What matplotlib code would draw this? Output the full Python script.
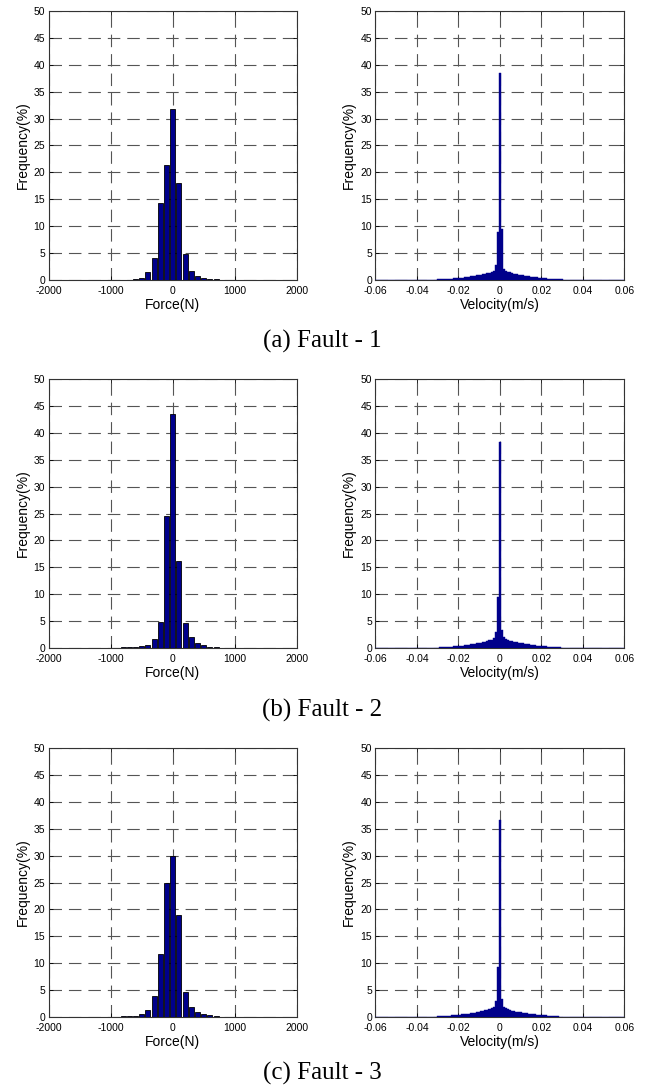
import numpy as np
import matplotlib
matplotlib.use("Agg")
import matplotlib.pyplot as plt

plt.rcParams["font.family"] = ["Liberation Sans", "DejaVu Sans"]
plt.rcParams["lines.scale_dashes"] = False

# force histogram: bin centres -2000..2000 N, step 100
force_centers = np.arange(-2000, 2001, 100)
force_f1 = [0, 0, 0, 0, 0, 0, 0, 0, 0, 0,
            0.05, 0.05, 0.05, 0.08, 0.2, 0.35, 1.4, 4.1, 14.3, 21.3, 31.7,
            18.1, 4.9, 1.7, 0.8, 0.4, 0.2, 0.1, 0.05,
            0.05, 0.05, 0.05, 0.05, 0.05, 0.05, 0.05, 0.05, 0.05, 0.05, 0.05, 0.05]
force_f2 = [0, 0, 0, 0, 0, 0, 0, 0, 0, 0, 0,
            0.08, 0.1, 0.1, 0.15, 0.3, 0.6, 1.6, 4.8, 24.5, 43.5,
            16.2, 4.6, 2.0, 1.0, 0.5, 0.25, 0.1,
            0.05, 0.05, 0.05, 0.05, 0.05, 0.05, 0.05, 0.05, 0.05, 0.05, 0.05, 0.05, 0.05]
force_f3 = [0, 0, 0, 0, 0, 0, 0, 0,
            0.08, 0.1, 0.1, 0.1, 0.12, 0.15, 0.25, 0.5, 1.4, 4.0, 11.7, 24.9, 30.0,
            19.0, 4.6, 1.8, 0.9, 0.6, 0.3, 0.25,
            0.05, 0.05, 0.05, 0.05, 0.05, 0.05, 0.05, 0.05, 0.05, 0.05, 0.05, 0.05, 0.05]

# velocity histogram: bin centres -0.06..0.06 m/s, step 0.001
vel_centers = np.round(np.arange(-60, 61) * 0.001, 3)
vel_f1 = [0.03, 0.03, 0.03, 0.03, 0.03, 0.03, 0.03, 0.03, 0.03, 0.03,
          0.03, 0.03, 0.03, 0.03, 0.03, 0.03, 0.03, 0.03, 0.03, 0.03,
          0.04, 0.04, 0.05, 0.05, 0.05, 0.06, 0.06, 0.07, 0.07, 0.08,
          0.09, 0.10, 0.12, 0.15, 0.17, 0.20, 0.23, 0.26, 0.29, 0.32,
          0.36, 0.40, 0.44, 0.49, 0.54, 0.59, 0.65, 0.71, 0.78, 0.85,
          0.92, 1.00, 1.08, 1.17, 1.27, 1.38, 1.52, 1.75, 2.80, 8.9,
          38.5,
          9.4, 2.1, 1.75, 1.55, 1.40, 1.28, 1.18, 1.09, 1.01, 0.94,
          0.87, 0.80, 0.74, 0.68, 0.62, 0.57, 0.52, 0.47, 0.42, 0.38,
          0.34, 0.30, 0.27, 0.24, 0.21, 0.18, 0.15, 0.12, 0.10, 0.09,
          0.08, 0.07, 0.07, 0.06, 0.06, 0.05, 0.05, 0.05, 0.04, 0.04,
          0.03, 0.03, 0.03, 0.03, 0.03, 0.03, 0.03, 0.03, 0.03, 0.03,
          0.03, 0.03, 0.03, 0.03, 0.03, 0.03, 0.03, 0.03, 0.03, 0.03]
vel_f2 = [0.03, 0.03, 0.03, 0.03, 0.03, 0.03, 0.03, 0.03, 0.03, 0.03,
          0.03, 0.03, 0.03, 0.03, 0.03, 0.03, 0.03, 0.03, 0.03, 0.03,
          0.04, 0.04, 0.04, 0.05, 0.05, 0.05, 0.06, 0.06, 0.07, 0.08,
          0.09, 0.11, 0.13, 0.15, 0.18, 0.21, 0.24, 0.27, 0.30, 0.34,
          0.38, 0.42, 0.46, 0.51, 0.56, 0.61, 0.67, 0.73, 0.80, 0.87,
          0.94, 1.02, 1.10, 1.19, 1.29, 1.40, 1.55, 1.80, 2.90, 9.4,
          38.3,
          3.3, 2.0, 1.70, 1.50, 1.36, 1.25, 1.15, 1.06, 0.98, 0.91,
          0.84, 0.78, 0.72, 0.66, 0.60, 0.55, 0.50, 0.45, 0.41, 0.37,
          0.33, 0.29, 0.26, 0.23, 0.20, 0.17, 0.14, 0.12, 0.10, 0.09,
          0.08, 0.07, 0.07, 0.06, 0.06, 0.05, 0.05, 0.05, 0.04, 0.04,
          0.03, 0.03, 0.03, 0.03, 0.03, 0.03, 0.03, 0.03, 0.03, 0.03,
          0.03, 0.03, 0.03, 0.03, 0.03, 0.03, 0.03, 0.03, 0.03, 0.03]
vel_f3 = [0.03, 0.03, 0.03, 0.03, 0.03, 0.03, 0.03, 0.03, 0.03, 0.03,
          0.03, 0.03, 0.03, 0.03, 0.03, 0.03, 0.03, 0.03, 0.03, 0.03,
          0.04, 0.04, 0.05, 0.05, 0.06, 0.06, 0.07, 0.08, 0.09, 0.10,
          0.12, 0.14, 0.16, 0.18, 0.21, 0.24, 0.27, 0.30, 0.33, 0.37,
          0.41, 0.45, 0.49, 0.54, 0.59, 0.64, 0.70, 0.76, 0.83, 0.90,
          0.97, 1.05, 1.13, 1.22, 1.32, 1.44, 1.60, 1.85, 2.90, 9.3,
          36.6,
          3.3, 1.9, 1.65, 1.45, 1.32, 1.21, 1.11, 1.02, 0.94, 0.87,
          0.81, 0.75, 0.69, 0.63, 0.58, 0.53, 0.48, 0.44, 0.40, 0.36,
          0.32, 0.29, 0.26, 0.23, 0.20, 0.17, 0.14, 0.12, 0.10, 0.09,
          0.08, 0.07, 0.07, 0.06, 0.06, 0.05, 0.05, 0.05, 0.04, 0.04,
          0.03, 0.03, 0.03, 0.03, 0.03, 0.03, 0.03, 0.03, 0.03, 0.03,
          0.03, 0.03, 0.03, 0.03, 0.03, 0.03, 0.03, 0.03, 0.03, 0.03]

force_ticks = [-2000, -1000, 0, 1000, 2000]
force_ticklabels = ["-2000", "-1000", "0", "1000", "2000"]
vel_ticks = [-0.06, -0.04, -0.02, 0, 0.02, 0.04, 0.06]
vel_ticklabels = ["-0.06", "-0.04", "-0.02", "0", "0.02", "0.04", "0.06"]
freq_ticks = [0, 5, 10, 15, 20, 25, 30, 35, 40, 45, 50]
captions = ["(a) Fault - 1", "(b) Fault - 2", "(c) Fault - 3"]

NAVY = "#00008b"


def style_axes(ax):
    ax.set_ylim(0, 50)
    ax.set_yticks(freq_ticks)
    ax.set_yticklabels([str(t) for t in freq_ticks])
    ax.set_ylabel("Frequency(%)", fontsize=10, labelpad=3)
    ax.grid(True, color="#555555", linestyle=(0, (9, 5)), linewidth=0.8)
    ax.set_axisbelow(True)
    ax.tick_params(direction="in", length=3, width=0.6, labelsize=7.5,
                   top=True, right=True)
    ax.tick_params(axis="y", pad=2.5)
    ax.tick_params(axis="x", pad=4)
    for s in ax.spines.values():
        s.set_linewidth(0.8)
        s.set_color("#333333")


def draw_force(ax, vals):
    ax.bar(force_centers, vals, width=82, color=NAVY, edgecolor="black",
           linewidth=0.6, zorder=3)
    ax.set_xlim(-2000, 2000)
    ax.set_xticks(force_ticks)
    ax.set_xticklabels(force_ticklabels)
    ax.set_xlabel("Force(N)", fontsize=10, labelpad=1.5)
    style_axes(ax)


def draw_velocity(ax, vals):
    ax.bar(vel_centers, vals, width=0.001, color=NAVY, edgecolor=NAVY,
           linewidth=0.3, zorder=3)
    ax.set_xlim(-0.06, 0.06)
    ax.set_xticks(vel_ticks)
    ax.set_xticklabels(vel_ticklabels)
    ax.set_xlabel("Velocity(m/s)", fontsize=10, labelpad=1.5)
    style_axes(ax)


fig = plt.figure(figsize=(6.45, 10.86), dpi=100)

row_bottoms = [0.7422, 0.4033, 0.0635]
caption_y = [0.686, 0.346, 0.0115]
forces = [force_f1, force_f2, force_f3]
vels = [vel_f1, vel_f2, vel_f3]

for i in range(3):
    ax1 = fig.add_axes([0.0755, row_bottoms[i], 0.3845, 0.2477])
    draw_force(ax1, forces[i])
    ax2 = fig.add_axes([0.582, row_bottoms[i], 0.386, 0.2477])
    draw_velocity(ax2, vels[i])
    fig.text(0.5, caption_y[i], captions[i], ha="center", va="center",
             fontsize=18, family=["Liberation Serif", "DejaVu Serif"])

fig.savefig("out.png", dpi=100)
